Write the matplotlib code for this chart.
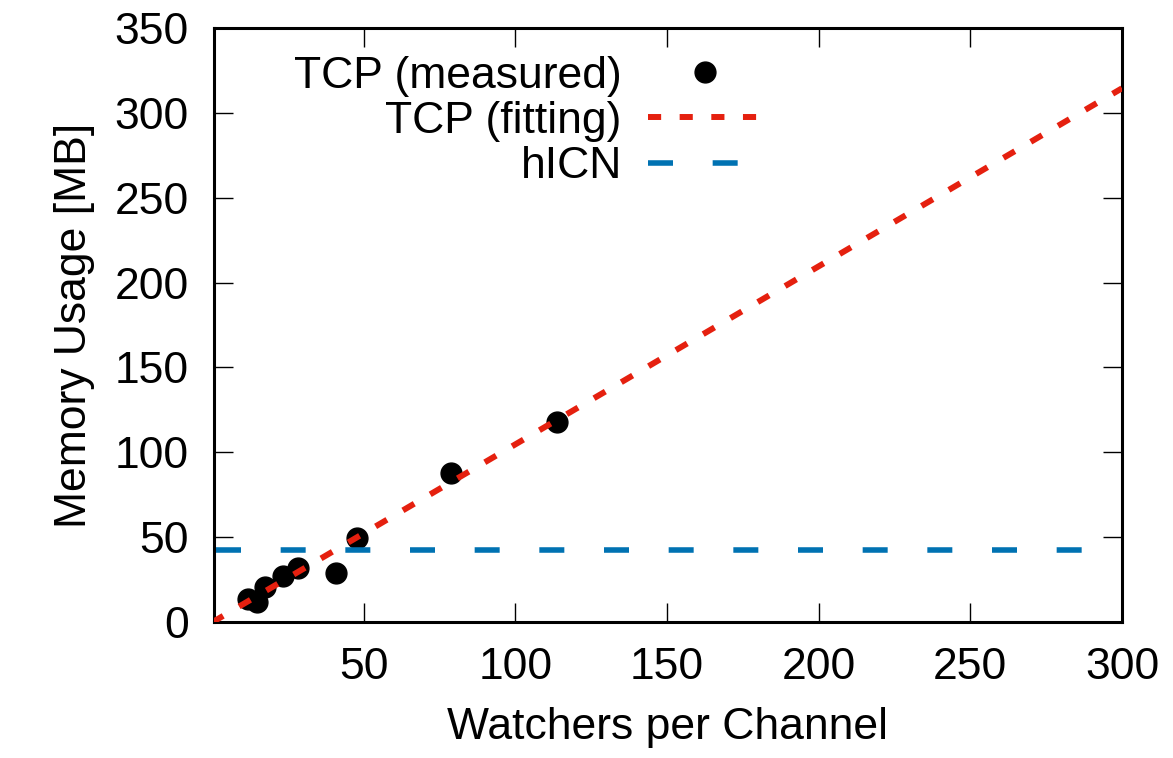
import matplotlib
matplotlib.use("Agg")
import matplotlib.pyplot as plt

# Data
measured_x = [12, 15, 17.4, 23.5, 28.4, 40.8, 47.9, 78.8, 113.7]
measured_y = [13.5, 11.5, 20.5, 27, 32, 29, 49.5, 88, 118]

fit_x = [0, 300]
fit_y = [-0.3, 314.5]

hicn_x = [1.3, 287]
hicn_y = [42.5, 42.5]

RED = "#e5200f"
BLUE = "#0072b2"
FS = 32

plt.rcParams["font.family"] = ["Liberation Sans", "DejaVu Sans"]

fig = plt.figure(figsize=(11.73, 7.58), dpi=100)
ax = fig.add_axes([0.1824, 0.1794, 0.9565 - 0.1824, 0.963 - 0.1794])

ax.plot(measured_x, measured_y, linestyle="none", marker="o", markersize=15,
        color="black", label="TCP (measured)", zorder=3)
ax.plot(fit_x, fit_y, color=RED, lw=4.3, dashes=(2.2, 3.1),
        dash_capstyle="butt", label="TCP (fitting)", zorder=4)
ax.plot(hicn_x, hicn_y, color=BLUE, lw=4.0, dashes=(4.5, 7.14),
        dash_capstyle="butt", label="hICN", zorder=4)

ax.set_xlim(0.7, 300)
ax.set_ylim(0, 350)
ax.set_xticks([50, 100, 150, 200, 250, 300])
ax.set_yticks([0, 50, 100, 150, 200, 250, 300, 350])

for s in ax.spines.values():
    s.set_linewidth(2.2)
ax.tick_params(direction="in", length=14, width=1.0, labelsize=FS,
               top=True, right=True, pad=18)

ax.set_xlabel("Watchers per Channel", fontsize=FS, labelpad=14)
ax.set_ylabel("Memory Usage [MB]", fontsize=FS, labelpad=14)

ax.legend(loc="upper left", bbox_to_anchor=(0.049, 1.0135), frameon=False,
          fontsize=FS, markerfirst=False, handlelength=2.55,
          handletextpad=0.6, labelspacing=0.1, borderpad=0.3)

fig.savefig("out.png", dpi=100, facecolor="white")
